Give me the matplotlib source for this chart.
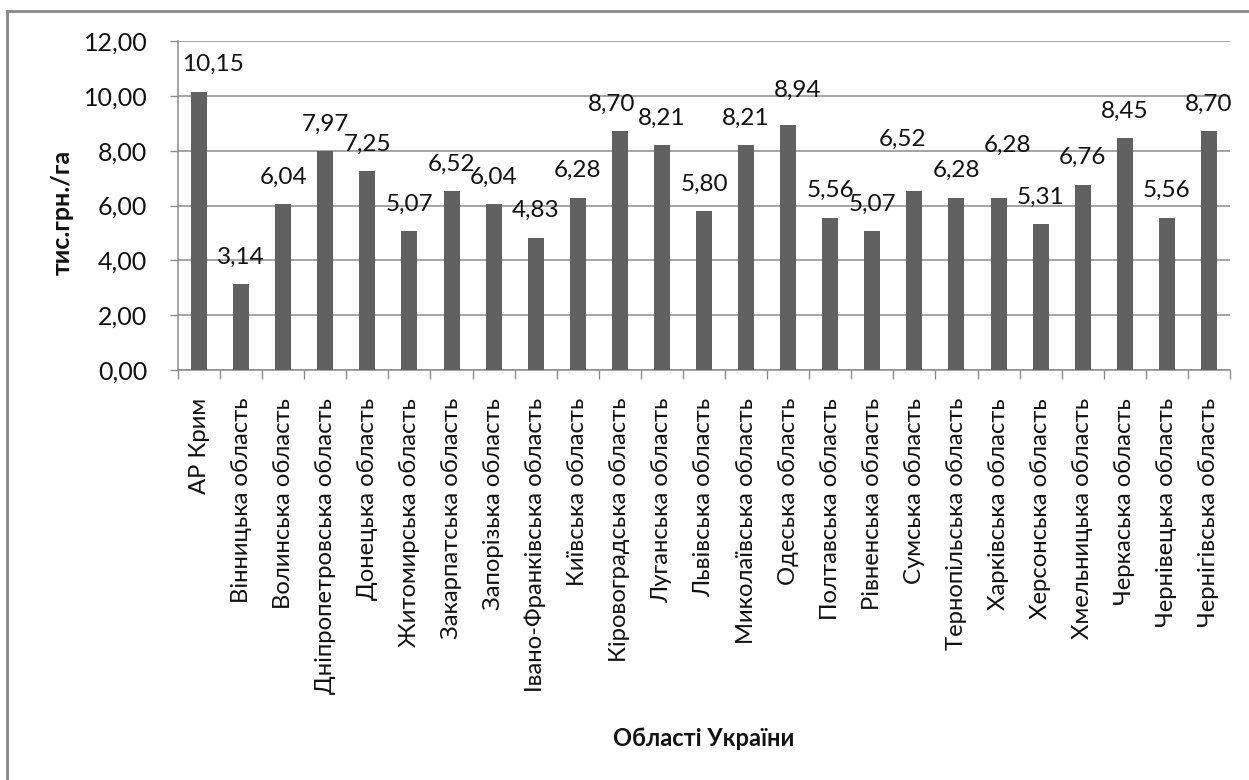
import matplotlib
matplotlib.use("Agg")
import matplotlib.pyplot as plt
from matplotlib.lines import Line2D
from matplotlib.ticker import FixedLocator, FuncFormatter

# Regions of Ukraine and their values (thousand UAH per hectare)
regions = [
    "АР Крим", "Вінницька область", "Волинська область",
    "Дніпропетровська область", "Донецька область", "Житомирська область",
    "Закарпатська область", "Запорізька область", "Івано-Франківська область",
    "Київська область", "Кіровоградська область", "Луганська область",
    "Львівська область", "Миколаївська область", "Одеська область",
    "Полтавська область", "Рівненська область", "Сумська область",
    "Тернопільська область", "Харківська область", "Херсонська область",
    "Хмельницька область", "Черкаська область", "Чернівецька область",
    "Чернігівська область",
]
values = [
    10.15, 3.14, 6.04, 7.97, 7.25, 5.07, 6.52, 6.04, 4.83, 6.28,
    8.70, 8.21, 5.80, 8.21, 8.94, 5.56, 5.07, 6.52, 6.28, 6.28,
    5.31, 6.76, 8.45, 5.56, 8.70,
]
y_ticks = [0, 2, 4, 6, 8, 10, 12]

FONT = ["Lato", "Open Sans", "DejaVu Sans"]
plt.rcParams["font.family"] = FONT

GRID = "#8c8c8c"
BAR = "#616161"
TEXT = "#111111"

fig = plt.figure(figsize=(12.49, 7.80), dpi=100)
W, H = 1249, 780
ax = fig.add_axes([178 / W, 1 - 370 / H, (1230 - 178) / W, (370 - 41) / H])

x = list(range(len(regions)))
ax.bar(x, values, width=0.38, color=BAR, zorder=3)

ax.set_xlim(-0.5, len(regions) - 0.5)
ax.set_ylim(0, 12)

# y axis
ax.set_yticks(y_ticks)
ax.yaxis.set_major_formatter(FuncFormatter(lambda v, _: f"{v:.2f}".replace(".", ",")))
ax.tick_params(axis="y", length=6, width=1, color=GRID, pad=16,
               labelsize=18, labelcolor=TEXT)
ax.grid(axis="y", color=GRID, linewidth=1.1, zorder=0)

# x axis: labels centred on bars, tick marks between categories
ax.set_xticks(x)
ax.set_xticklabels(regions, rotation=90, va="top", ha="center")
ax.tick_params(axis="x", which="major", length=0, pad=20,
               labelsize=17.2, labelcolor=TEXT)
ax.xaxis.set_minor_locator(FixedLocator([k - 0.5 for k in range(len(regions) + 1)]))
ax.tick_params(axis="x", which="minor", length=6.5, width=1, color=GRID)

for side in ("top", "right"):
    ax.spines[side].set_visible(False)
for side in ("left", "bottom"):
    ax.spines[side].set_color(GRID)
    ax.spines[side].set_linewidth(1.1)

# value labels above bars; a few are nudged to keep them apart
nudges = {0: (14, 0), 10: (-8, 0), 14: (9, 8), 17: (-12, 25), 19: (9, 25)}
for i, v in enumerate(values):
    dx, dy = nudges.get(i, (0, 0))
    ax.annotate(f"{v:.2f}".replace(".", ","), xy=(i, v),
                xytext=(dx, 27 + dy), textcoords="offset pixels",
                ha="center", va="center", fontsize=17.5, color=TEXT,
                zorder=4)

fig.text(62 / W, 1 - 212 / H, "тис.грн./га", rotation=90, ha="center",
         va="center", fontsize=18, fontweight="bold", color=TEXT)
fig.text(704 / W, 1 - 739 / H, "Області України", ha="center", va="center",
         fontsize=17, fontweight="bold", color=TEXT)

# chart frame (top and left edges)
fig.add_artist(Line2D([7 / W, 1.0], [1 - 11 / H, 1 - 11 / H],
                      transform=fig.transFigure, color="#8a8a8a", linewidth=2))
fig.add_artist(Line2D([7 / W, 7 / W], [0.0, 1 - 11 / H],
                      transform=fig.transFigure, color="#8a8a8a", linewidth=2))

fig.savefig("out.png", dpi=100, facecolor="white")
